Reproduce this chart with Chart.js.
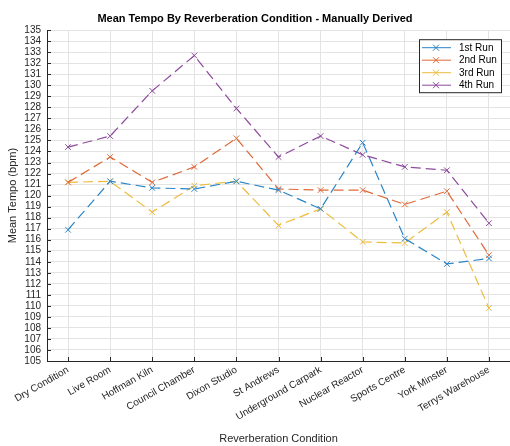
<!DOCTYPE html>
<html>
<head>
<meta charset="utf-8">
<script src="https://cdn.jsdelivr.net/npm/chart.js@4.4.1/dist/chart.umd.min.js"></script>
<style>
  html, body { margin: 0; padding: 0; background: #fff; }
  #wrap { width: 510px; height: 446px; }
</style>
</head>
<body>
<div id="wrap"><canvas id="c" width="510" height="446"></canvas></div>
<script>
// conditions along the x axis
var conditions = ['Dry Condition', 'Live Room', 'Hoffman Kiln', 'Council Chamber', 'Dixon Studio',
    'St Andrews', 'Underground Carpark', 'Nuclear Reactor', 'Sports Centre', 'York Minster', 'Terrys Warehouse'];

// mean tempo (bpm) per run
var run1 = [116.9, 121.3, 120.7, 120.6, 121.3, 120.5, 118.8, 124.8, 116.1, 113.8, 114.3];
var run2 = [121.2, 123.5, 121.2, 122.6, 125.2, 120.6, 120.5, 120.5, 119.2, 120.4, 114.6];
var run3 = [121.2, 121.3, 118.5, 120.9, 121.3, 117.3, 118.8, 115.8, 115.7, 118.5, 109.8];
var run4 = [124.4, 125.4, 129.5, 132.7, 127.9, 123.5, 125.4, 123.7, 122.6, 122.3, 117.5];

var runLabels = ['1st Run', '2nd Run', '3rd Run', '4th Run'];
var runColors = ['#2a86c8', '#df6a38', '#eebc3e', '#8e4a9c'];

var yMin = 105, yMax = 135;

var FONT = 'Liberation Sans, Arial, Helvetica, sans-serif';
var TXT = '#262626';

function pts(arr) {
    return arr.map((v, i) => ({ x: i, y: v }));
}

var datasets = [run1, run2, run3, run4].map((arr, i) => ({
    label: runLabels[i],
    data: pts(arr),
    borderColor: runColors[i],
    backgroundColor: runColors[i],
    borderWidth: 1.2,
    borderDash: [10, 5],
    pointStyle: 'crossRot',
    pointRadius: 4,
    pointBorderWidth: 1,
    fill: false,
    tension: 0,
}));

// small inward tick marks, matlab style
var innerTicks = {
    id: 'innerTicks',
    afterDraw(chart) {
        const ctx = chart.ctx, a = chart.chartArea;
        const xs = chart.scales.x, ys = chart.scales.y;
        ctx.save();
        ctx.strokeStyle = TXT;
        ctx.lineWidth = 1;
        ctx.beginPath();
        ys.ticks.forEach(t => {
            const y = Math.round(ys.getPixelForValue(t.value)) + 0.5;
            ctx.moveTo(a.left, y);
            ctx.lineTo(a.left + 4, y);
        });
        xs.ticks.forEach(t => {
            const x = Math.round(xs.getPixelForValue(t.value)) + 0.5;
            ctx.moveTo(x, a.bottom);
            ctx.lineTo(x, a.bottom - 4);
        });
        ctx.stroke();
        ctx.restore();
    }
};

// legend box in the top right corner of the plot
var boxLegend = {
    id: 'boxLegend',
    afterDraw(chart) {
        const ctx = chart.ctx, a = chart.chartArea;
        const w = 82, h = 53;
        const x0 = 419, y0 = a.top + 9;
        ctx.save();
        ctx.fillStyle = '#fff';
        ctx.fillRect(x0, y0, w, h);
        ctx.strokeStyle = TXT;
        ctx.lineWidth = 1;
        ctx.strokeRect(x0 + 0.5, y0 + 0.5, w, h);
        ctx.font = '10px ' + FONT;
        ctx.textBaseline = 'middle';
        chart.data.datasets.forEach((ds, i) => {
            const y = y0 + 8.5 + i * 12.5;
            ctx.strokeStyle = ds.borderColor;
            ctx.beginPath();
            ctx.moveTo(x0 + 3, y);
            ctx.lineTo(x0 + 32, y);
            const cx = x0 + 17, r = 3;
            ctx.moveTo(cx - r, y - r); ctx.lineTo(cx + r, y + r);
            ctx.moveTo(cx - r, y + r); ctx.lineTo(cx + r, y - r);
            ctx.stroke();
            ctx.fillStyle = '#000';
            ctx.fillText(ds.label, x0 + 40, y + 0.5);
        });
        ctx.restore();
    }
};

new Chart(document.getElementById('c').getContext('2d'), {
    type: 'line',
    data: { datasets: datasets },
    plugins: [innerTicks, boxLegend],
    options: {
        responsive: false,
        animation: false,
        layout: { padding: 0, autoPadding: false },
        plugins: {
            legend: { display: false },
            tooltip: { enabled: false },
            title: {
                display: true,
                text: 'Mean Tempo By Reverberation Condition - Manually Derived',
                color: '#000',
                font: { family: FONT, size: 11, weight: 'bold' },
                padding: { top: 12, bottom: 5 },
            },
        },
        scales: {
            x: {
                type: 'linear',
                min: -0.5,
                max: 10.5,
                afterBuildTicks: s => { s.ticks = conditions.map((_, i) => ({ value: i })); },
                afterFit: s => {
                    s.height = 85;
                    s.paddingRight = 0;
                    s.paddingLeft = 0;
                },
                ticks: {
                    autoSkip: false,
                    minRotation: 30,
                    maxRotation: 30,
                    padding: 3,
                    color: TXT,
                    font: { family: FONT, size: 10 },
                    callback: v => conditions[v] || '',
                },
                grid: { color: '#e3e3e3', drawTicks: false },
                border: { color: TXT },
                title: {
                    display: true,
                    text: 'Reverberation Condition',
                    color: TXT,
                    font: { family: FONT, size: 11 },
                    padding: { top: 0, bottom: 0 },
                },
            },
            y: {
                min: yMin,
                max: yMax,
                afterFit: s => { s.width = 47; },
                ticks: {
                    stepSize: 1,
                    autoSkip: false,
                    maxTicksLimit: 100,
                    padding: 6,
                    color: TXT,
                    font: { family: FONT, size: 10 },
                },
                grid: { color: '#e3e3e3', drawTicks: false },
                border: { color: TXT },
                title: {
                    display: true,
                    text: 'Mean Tempo (bpm)',
                    color: TXT,
                    font: { family: FONT, size: 11 },
                    padding: { top: 6, bottom: 0 },
                },
            },
        },
    },
});
</script>
</body>
</html>
